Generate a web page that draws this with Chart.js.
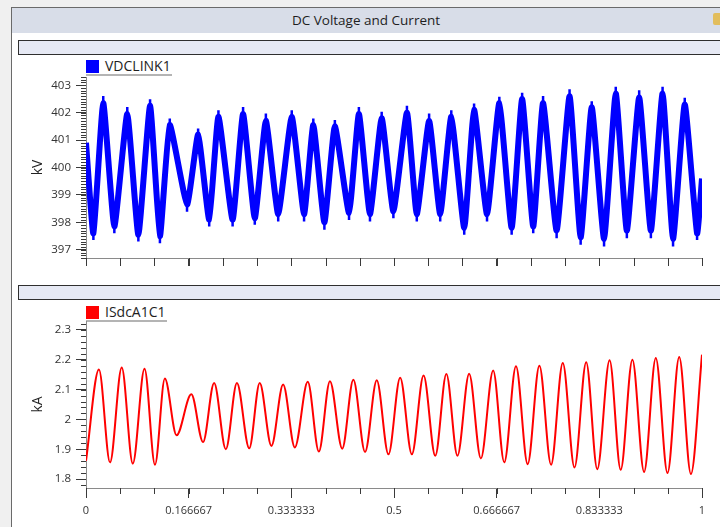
<!DOCTYPE html>
<html>
<head>
<meta charset="utf-8">
<script src="https://cdn.jsdelivr.net/npm/chart.js@4.4.1/dist/chart.umd.min.js"></script>
<style>
  body { margin:0; width:720px; height:527px; overflow:hidden; background:#f0f0f0; position:relative; font-family:"Open Sans","Noto Sans",sans-serif; }
  #frame { position:absolute; left:11px; top:7px; width:720px; height:530px; background:#fff; border-left:1px solid #6a6a6a; border-top:1px solid #6a6a6a; }
  #head { position:absolute; left:12px; top:8px; width:708px; height:25px; background:#d8dde8; text-align:center; font-size:13.5px; line-height:25px; color:#1e1e1e; }
  #lock { position:absolute; left:713px; top:13px; width:9px; height:12px; background:#e2bd5c; border-radius:2px; }
  .bar { position:absolute; left:18px; width:712px; background:#e6e9f4; border:1px solid #2f2f2f; }
  .leg { position:absolute; left:86px; height:16px; font-size:14px; color:#1e1e1e; }
  .leg i { position:absolute; left:0; top:1px; width:13px; height:13px; }
  .leg span { position:absolute; left:19px; top:-3px; white-space:nowrap; }
  .leg b { position:absolute; left:0; top:15px; height:2px; background:#b4b4b4; }
  canvas { position:absolute; left:0; }
</style>
</head>
<body>
<div id="frame"></div>
<div id="head">DC Voltage and Current</div>
<div id="lock"></div>
<div class="bar" style="top:40px;height:13px"></div>
<div class="bar" style="top:285px;height:13px"></div>
<div class="leg" style="top:59px"><i style="background:#0000ff"></i><span>VDCLINK1</span><b style="width:86px"></b></div>
<div class="leg" style="top:305px"><i style="background:#ff0000"></i><span>ISdcA1C1</span><b style="width:81px"></b></div>
<canvas id="cv" width="720" height="200" style="top:70px"></canvas>
<canvas id="ci" width="720" height="227" style="top:300px"></canvas>
<script>
// time axis
const timeTicks = [0, 0.166667, 0.333333, 0.5, 0.666667, 0.833333, 1];
const timeLabels = ['0', '0.166667', '0.333333', '0.5', '0.666667', '0.833333', '1'];

// VDCLINK1 (kV) - centre of the noisy band, read at each peak / trough
const vdcTime = [0, 0.012, 0.028, 0.046, 0.067, 0.085, 0.104, 0.120, 0.136, 0.164, 0.182, 0.200, 0.215, 0.238,
  0.255, 0.274, 0.292, 0.312, 0.334, 0.354, 0.369, 0.387, 0.404, 0.427, 0.443, 0.461, 0.480, 0.499, 0.521, 0.537,
  0.557, 0.575, 0.593, 0.614, 0.630, 0.651, 0.671, 0.691, 0.708, 0.726, 0.742, 0.764, 0.785, 0.803, 0.821, 0.841,
  0.860, 0.878, 0.898, 0.917, 0.936, 0.953, 0.972, 0.992, 1.0];
const vdcValues = [400.9, 397.6, 402.35, 397.85, 401.95, 397.55, 402.25, 397.5, 401.55, 398.65, 401.2, 398.1, 401.85, 398.1,
  401.95, 398.15, 401.7, 398.3, 401.85, 398.3, 401.55, 398.0, 401.5, 398.35, 401.95, 398.3, 401.8, 398.4, 402.0, 398.3,
  401.7, 398.3, 401.85, 397.8, 402.1, 398.3, 402.35, 397.8, 402.5, 397.85, 402.35, 397.7, 402.6, 397.45, 402.2, 397.4,
  402.7, 397.7, 402.55, 397.7, 402.7, 397.4, 402.3, 397.6, 399.6];
// noise spike tips at the same instants
const vdcTips = [null, 397.36, 402.61, 397.6, 402.21, 397.3, 402.49, 397.24, 401.79, 398.39, 401.42, 397.85, 402.09, 397.85,
  402.21, 397.91, 401.97, 398.03, 402.09, 398.03, 401.79, 397.73, 401.73, 398.09, 402.21, 398.03, 402.03, 398.15, 402.25, 398.03,
  401.97, 398.03, 402.09, 397.55, 402.33, 398.03, 402.58, 397.55, 402.73, 397.6, 402.61, 397.42, 402.85, 397.18, 402.42, 397.12,
  402.94, 397.42, 402.82, 397.42, 402.94, 397.12, 402.54, 397.36, null];
const vdcTicks = [397, 398, 399, 400, 401, 402, 403];

// ISdcA1C1 (kA) - peaks and troughs
const isdcTime = [0, 0.021, 0.039, 0.058, 0.076, 0.095, 0.112, 0.128, 0.147, 0.171, 0.190, 0.208, 0.227, 0.245,
  0.265, 0.282, 0.301, 0.320, 0.339, 0.360, 0.378, 0.396, 0.416, 0.434, 0.453, 0.472, 0.491, 0.510, 0.529, 0.548,
  0.567, 0.585, 0.603, 0.622, 0.641, 0.661, 0.679, 0.698, 0.717, 0.736, 0.755, 0.774, 0.793, 0.812, 0.830, 0.850,
  0.868, 0.887, 0.906, 0.925, 0.944, 0.963, 0.982, 1.0];
const isdcValues = [1.861, 2.167, 1.856, 2.174, 1.852, 2.17, 1.848, 2.137, 1.947, 2.084, 1.924, 2.122, 1.90, 2.122,
  1.903, 2.122, 1.911, 2.117, 1.906, 2.126, 1.892, 2.128, 1.902, 2.133, 1.891, 2.131, 1.883, 2.14, 1.883, 2.147,
  1.878, 2.152, 1.878, 2.153, 1.869, 2.164, 1.856, 2.178, 1.85, 2.18, 1.848, 2.189, 1.839, 2.192, 1.833, 2.198,
  1.831, 2.2, 1.824, 2.206, 1.82, 2.209, 1.817, 2.217];
const isdcTicks = [1.8, 1.9, 2.0, 2.1, 2.2, 2.3];
const isdcLabels = ['1.8', '1.9', '2', '2.1', '2.2', '2.3'];

const FONT = '"Open Sans","Noto Sans",sans-serif';
const TICK = '#3a3a3a';

// small ticks between the labelled ones
const minorTicks = {
  id: 'minorTicks',
  afterDraw(chart, args, o) {
    const {ctx, chartArea: a} = chart;
    const xs = chart.scales.x, ys = chart.scales.y;
    ctx.save();
    ctx.strokeStyle = TICK; ctx.lineWidth = 1;
    ctx.beginPath();
    for (let i = 0; i <= o.yCount; i++) {
      const p = Math.round(ys.getPixelForValue(o.yFrom + i * o.yStep)) + 0.5;
      ctx.moveTo(a.left - o.yLen, p); ctx.lineTo(a.left, p);
    }
    for (let i = 0; i <= o.xCount; i++) {
      const p = Math.round(xs.getPixelForValue(i * o.xStep)) + 0.5;
      ctx.moveTo(p, a.bottom); ctx.lineTo(p, a.bottom + o.xLen);
    }
    ctx.stroke();
    ctx.restore();
  }
};

function makeChart(id, opt) {
  return new Chart(document.getElementById(id), {
    type: 'line',
    data: { datasets: opt.datasets },
    options: {
      responsive: false, animation: false, devicePixelRatio: 1,
      layout: { padding: { top: opt.padTop, right: 18, left: 0, bottom: 0 } },
      plugins: { legend: { display: false }, tooltip: { enabled: false }, minorTicks: opt.minor },
      scales: {
        x: {
          type: 'linear', min: 0, max: 1,
          afterBuildTicks: s => { s.ticks = opt.xTicks.map(v => ({value: v})); },
          afterFit: s => { s.height = opt.xHeight; s.paddingLeft = 0; s.paddingRight = 0; },
          grid: { drawOnChartArea: false, tickLength: opt.xTickLen, tickColor: TICK },
          border: { display: true, color: '#8a8a8a' },
          ticks: { maxRotation: 0, autoSkip: false, padding: 6, color: '#333', font: { family: FONT, size: 11 },
            callback: (v, i) => opt.xLabels ? opt.xLabels[i] : '' }
        },
        y: {
          min: opt.yMin, max: opt.yMax,
          afterBuildTicks: s => { s.ticks = opt.yTicks.map(v => ({value: v})); },
          afterFit: s => { s.width = 86; s.paddingTop = 0; s.paddingBottom = 0; },
          grid: { drawOnChartArea: false, tickLength: 10, tickColor: TICK },
          border: { display: true, color: '#8a8a8a' },
          title: { display: true, text: opt.unit, color: '#222', font: { family: FONT, size: 14 }, padding: { top: 30 } },
          ticks: { padding: 5, color: '#333', font: { family: FONT, size: 11.5 },
            callback: (v, i) => opt.yLabels[i] }
        }
      }
    },
    plugins: [minorTicks]
  });
}

// spikes: short vertical strokes from band centre to tip, broken by gaps
const spikeData = [];
vdcTime.forEach((t, i) => {
  if (vdcTips[i] === null) return;
  spikeData.push({x: t, y: vdcValues[i]}, {x: t, y: vdcTips[i]}, {x: t, y: null});
});

makeChart('cv', {
  datasets: [
    { data: vdcTime.map((t, i) => ({x: t, y: vdcValues[i]})), borderColor: '#0000ff', borderWidth: 6,
      pointRadius: 0, tension: 0.15, fill: false },
    { data: spikeData, borderColor: '#0000ff', borderWidth: 2.5, pointRadius: 0, tension: 0, spanGaps: false, fill: false }
  ],
  padTop: 7, xHeight: 12, xTickLen: 8,
  yMin: 396.7, yMax: 403.3, yTicks: vdcTicks, yLabels: vdcTicks.map(String),
  xTicks: timeTicks, xLabels: null, unit: 'kV',
  minor: { yFrom: 396.7, yStep: 0.1, yCount: 66, yLen: 5, xStep: 1 / 18, xCount: 18, xLen: 8 }
});

makeChart('ci', {
  datasets: [
    { data: isdcTime.map((t, i) => ({x: t, y: isdcValues[i]})), borderColor: '#ff0000', borderWidth: 2,
      pointRadius: 0, cubicInterpolationMode: 'monotone', fill: false }
  ],
  padTop: 21, xHeight: 39, xTickLen: 10,
  yMin: 1.77, yMax: 2.33, yTicks: isdcTicks, yLabels: isdcLabels,
  xTicks: timeTicks, xLabels: timeLabels, unit: 'kA',
  minor: { yFrom: 1.78, yStep: 0.02, yCount: 27, yLen: 5, xStep: 1 / 18, xCount: 18, xLen: 6 }
});
</script>
</body>
</html>
